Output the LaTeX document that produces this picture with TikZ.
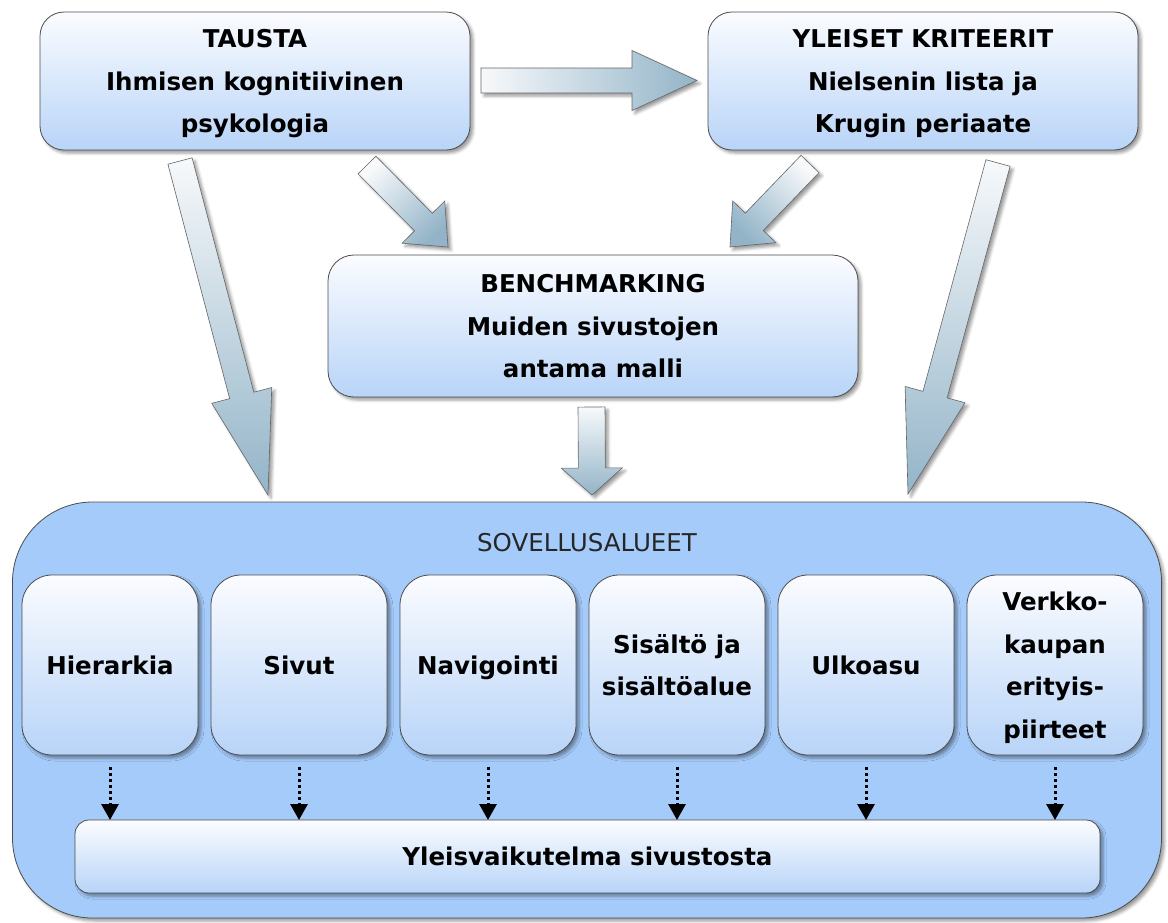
\documentclass[tikz,border=0pt]{standalone}
\usepackage{fontspec}
\setmainfont{DejaVu Sans}
\usetikzlibrary{calc,arrows.meta,shadows.blur}

\definecolor{boxtop}{HTML}{FBFCFF}
\definecolor{boxbot}{HTML}{B8D4F8}
\definecolor{panel}{HTML}{A5CBFA}
\definecolor{arrtail}{HTML}{F7F9FB}
\definecolor{arrhead}{HTML}{93B4C8}

% block arrow: #1 options, #2 tail, #3 tip, #4 half shaft width, #5 half head width, #6 head length
\newcommand\blockarr[6]{%
  \coordinate (hb) at ($(#3)!#6!(#2)$);
  \path[#1] ($(#2)!#4!90:(#3)$) -- ($(hb)!#4!90:(#3)$) -- ($(hb)!#5!90:(#3)$)
    -- (#3) -- ($(hb)!#5!-90:(#3)$) -- ($(hb)!#4!-90:(#3)$) -- ($(#2)!#4!-90:(#3)$) -- cycle;}

\begin{document}
\begin{tikzpicture}[x=1pt,y=-1pt,
  softshadow/.style={blur shadow={shadow xshift=3pt, shadow yshift=-3pt, shadow blur radius=3pt}},
  card/.style={draw=black!70, line width=0.8pt, top color=boxtop, bottom color=boxbot,
    inner sep=0pt, outer sep=0pt, align=center, text=black, text depth=0pt,
    font=\bfseries\fontsize{24.5}{42.5}\selectfont, softshadow},
  bigarrow/.style={draw=black!60, line width=0.6pt, top color=arrtail, bottom color=arrhead, softshadow},
  dotarrow/.style={line width=3pt, dash pattern=on 3pt off 3pt, -{Triangle[width=17pt,length=16pt]}}]

\useasboundingbox (0,0) rectangle (1168,922);

% source boxes
\node[card, minimum width=430pt, minimum height=138pt, rounded corners=24pt] (tausta) at (255,81)
  {TAUSTA\\Ihmisen kognitiivinen\\psykologia};
\node[card, minimum width=430pt, minimum height=138pt, rounded corners=24pt] (yleiset) at (923,81)
  {YLEISET KRITEERIT\\Nielsenin lista ja\\Krugin periaate};
\node[card, minimum width=530pt, minimum height=142pt, rounded corners=26pt] (bench) at (593,326)
  {BENCHMARKING\\Muiden sivustojen\\antama malli};

% application area panel
\node[draw=black!70, line width=0.8pt, fill=panel, rounded corners=80pt, inner sep=0pt,
  minimum width=1149pt, minimum height=416pt, softshadow] (sov) at (587,710) {};
\node[font=\fontsize{24.5}{28}\selectfont, text=black!85] (sovlabel) at (587,543) {SOVELLUSALUEET};

\foreach \name/\x/\txt in {h1/110/Hierarkia, h2/299/Sivut, h3/488/Navigointi,
    h4/677/{Sisältö ja\\sisältöalue}, h5/866/Ulkoasu, h6/1055/{Verkko-\\kaupan\\erityis-\\piirteet}}
  \node[card, minimum width=176pt, minimum height=180pt, rounded corners=30pt] (\name) at (\x,665) {\txt};

\node[card, minimum width=1025pt, minimum height=73pt, rounded corners=14pt] (bar) at (587.5,856.5)
  {Yleisvaikutelma sivustosta};

\foreach \name in {h1,h2,h3,h4,h5,h6}
  \draw[dotarrow] ([yshift=-12pt]\name.south) -- (\name.south |- bar.north);

% block arrows between the stages
\coordinate (a1t) at (481,80.5);  \coordinate (a1h) at (697,80.5);
\coordinate (a2t) at (180,161);   \coordinate (a2h) at (268,495);
\coordinate (a3t) at (367,165);   \coordinate (a3h) at (448,247);
\coordinate (a4t) at (810,164);   \coordinate (a4h) at (730,247);
\coordinate (a5t) at (998,163);   \coordinate (a5h) at (908,494);
\coordinate (a6t) at (591.5,407); \coordinate (a6h) at (592,495);

\blockarr{bigarrow, left color=arrtail, right color=arrhead}{a1t}{a1h}{12.5pt}{30pt}{65pt}
\blockarr{bigarrow}{a2t}{a2h}{12.5pt}{31pt}{103pt}
\blockarr{bigarrow, shading angle=45}{a3t}{a3h}{12.5pt}{30pt}{35pt}
\blockarr{bigarrow, shading angle=-45}{a4t}{a4h}{12.5pt}{30pt}{35pt}
\blockarr{bigarrow}{a5t}{a5h}{12.5pt}{31pt}{103pt}
\blockarr{bigarrow}{a6t}{a6h}{13.5pt}{30.5pt}{27pt}

\end{tikzpicture}
\end{document}
